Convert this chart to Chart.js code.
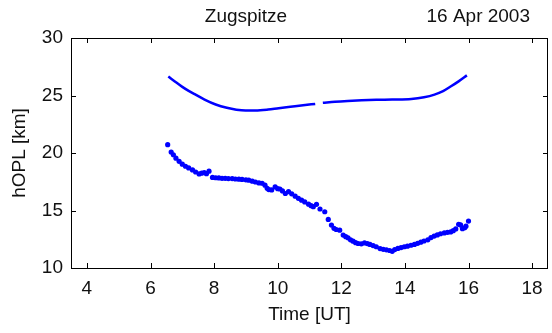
<!DOCTYPE html>
<html>
<head>
<meta charset="utf-8">
<script src="https://cdn.jsdelivr.net/npm/chart.js@4/dist/chart.umd.min.js"></script>
<style>
  html, body { margin: 0; padding: 0; background: #fff; }
  #c { display: block; }
</style>
</head>
<body>
<canvas id="c" width="552" height="333"></canvas>
<script>
// hOPL from the smooth model curve (gap around 11.3 UT)
const lineTime = [6.56, 6.8, 7.0, 7.2, 7.43, 7.7, 8.05, 8.4, 8.7, 8.99, 9.3, 9.7, 10.03, 10.4, 10.8, 11.18,
  11.3,
  11.42, 11.8, 12.2, 12.64, 13.1, 13.6, 14.2, 14.6, 14.93, 15.2, 15.45, 15.7, 15.95];
const lineHopl = [26.65, 26.15, 25.75, 25.4, 25.05, 24.65, 24.22, 23.93, 23.77, 23.7, 23.7, 23.78, 23.9, 24.02, 24.15, 24.27,
  null,
  24.36, 24.45, 24.52, 24.58, 24.62, 24.65, 24.7, 24.85, 25.08, 25.38, 25.8, 26.25, 26.75];

// measured hOPL points
const dotTime = [6.54, 6.65, 6.72, 6.80, 6.90, 7.00, 7.10, 7.20, 7.32, 7.42, 7.53, 7.61, 7.69, 7.76, 7.84,
  7.95, 8.05, 8.15, 8.25, 8.35, 8.45, 8.57, 8.67, 8.78, 8.88, 9.00, 9.09, 9.20, 9.30, 9.41,
  9.51, 9.60, 9.67, 9.72, 9.81, 9.92, 10.00, 10.07, 10.15, 10.24, 10.34, 10.44, 10.55, 10.65, 10.75,
  10.85, 10.97, 11.05, 11.12, 11.22, 11.33, 11.48, 11.59, 11.69, 11.77, 11.84, 11.95, 12.06, 12.14, 12.21,
  12.29, 12.37, 12.45, 12.53, 12.63, 12.73, 12.82, 12.90, 13.00, 13.10, 13.22, 13.32, 13.42, 13.52, 13.60,
  13.68, 13.78, 13.88, 13.98, 14.08, 14.19, 14.30, 14.40, 14.50, 14.60, 14.72, 14.82, 14.92, 15.02, 15.12,
  15.24, 15.34, 15.44, 15.52, 15.60, 15.69, 15.75, 15.81, 15.88, 15.92, 16.00];
const dotHopl = [20.72, 20.08, 19.85, 19.55, 19.28, 19.03, 18.85, 18.70, 18.53, 18.35, 18.18, 18.25, 18.30, 18.20, 18.42,
  17.88, 17.85, 17.83, 17.80, 17.80, 17.78, 17.78, 17.74, 17.72, 17.70, 17.67, 17.64, 17.55, 17.48, 17.40,
  17.37, 17.20, 16.93, 16.82, 16.79, 17.05, 16.90, 16.87, 16.70, 16.48, 16.64, 16.45, 16.25, 16.06, 15.90,
  15.75, 15.55, 15.42, 15.33, 15.54, 15.13, 14.89, 14.22, 13.73, 13.45, 13.35, 13.29, 12.86, 12.72, 12.62,
  12.45, 12.33, 12.20, 12.13, 12.10, 12.18, 12.12, 12.05, 11.95, 11.85, 11.69, 11.62, 11.58, 11.52, 11.45,
  11.60, 11.70, 11.78, 11.85, 11.90, 11.98, 12.05, 12.15, 12.25, 12.35, 12.45, 12.65, 12.78, 12.88, 12.98,
  13.05, 13.10, 13.14, 13.25, 13.40, 13.80, 13.75, 13.42, 13.50, 13.64, 14.08];

const xTicks = [4, 6, 8, 10, 12, 14, 16, 18];
const yTicks = [10, 15, 20, 25, 30];

const BLUE = '#0000ff';
const FONT = "'Liberation Sans', Arial, Helvetica, sans-serif";

// matlab style box with inward ticks, plus the two header texts
const boxPlugin = {
  id: 'box',
  afterDraw(chart) {
    const {ctx, chartArea: a, scales: {x, y}} = chart;
    ctx.save();
    ctx.strokeStyle = '#000';
    ctx.lineWidth = 1;
    ctx.beginPath();
    ctx.rect(Math.round(a.left) + 0.5, Math.round(a.top) + 0.5,
      Math.round(a.right - a.left) - 1, Math.round(a.bottom - a.top));
    const len = 5;
    xTicks.forEach(v => {
      const px = Math.round(x.getPixelForValue(v)) + 0.5;
      ctx.moveTo(px, a.bottom); ctx.lineTo(px, a.bottom - len);
      ctx.moveTo(px, a.top); ctx.lineTo(px, a.top + len);
    });
    yTicks.forEach(v => {
      const py = Math.round(y.getPixelForValue(v)) + 0.5;
      ctx.moveTo(a.left, py); ctx.lineTo(a.left + len, py);
      ctx.moveTo(a.right, py); ctx.lineTo(a.right - len, py);
    });
    ctx.stroke();

    ctx.fillStyle = '#111';
    ctx.font = '19px ' + FONT;
    ctx.textBaseline = 'alphabetic';
    ctx.textAlign = 'center';
    ctx.fillText('Zugspitze', 246, 22);
    ctx.textAlign = 'right';
    ctx.fillText('16 Apr 2003', 530, 22);
    ctx.restore();
  }
};

new Chart(document.getElementById('c'), {
  type: 'scatter',
  data: {
    datasets: [
      {
        data: lineTime.map((t, i) => ({x: t, y: lineHopl[i]})),
        showLine: true,
        borderColor: BLUE,
        borderWidth: 2.5,
        pointRadius: 0,
        cubicInterpolationMode: 'monotone',
        spanGaps: false
      },
      {
        data: dotTime.map((t, i) => ({x: t, y: dotHopl[i]})),
        backgroundColor: BLUE,
        borderColor: BLUE,
        borderWidth: 0,
        pointRadius: 2.6
      }
    ]
  },
  options: {
    responsive: false,
    animation: false,
    layout: {padding: {top: 38, right: 1, bottom: 0, left: 0}},
    plugins: {legend: {display: false}, tooltip: {enabled: false}},
    scales: {
      x: {
        type: 'linear',
        min: 3.5, max: 18.5,
        afterBuildTicks: s => { s.ticks = xTicks.map(v => ({value: v})); },
        afterFit: s => { s.height = 65; },
        grid: {display: false, drawTicks: false},
        border: {display: false},
        ticks: {color: '#111', font: {family: FONT, size: 19}, padding: 9, maxRotation: 0},
        title: {display: true, text: 'Time [UT]', color: '#111', font: {family: FONT, size: 19}, padding: {top: 0, bottom: 7}}
      },
      y: {
        type: 'linear',
        min: 10, max: 30,
        afterBuildTicks: s => { s.ticks = yTicks.map(v => ({value: v})); },
        afterFit: s => { s.width = 71; },
        grid: {display: false, drawTicks: false},
        border: {display: false},
        ticks: {color: '#111', font: {family: FONT, size: 19}, padding: 8},
        title: {display: true, text: 'hOPL [km]', color: '#111', font: {family: FONT, size: 19}, padding: {top: 8, bottom: 0}}
      }
    }
  },
  plugins: [boxPlugin]
});
</script>
</body>
</html>
